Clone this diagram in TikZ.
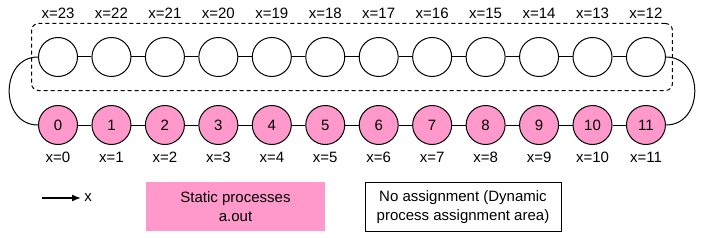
\documentclass[tikz,border=0pt]{standalone}
\usepackage{fontspec}
\setmainfont{Liberation Sans}
\usepackage{tikz}
\usetikzlibrary{arrows.meta,positioning,fit}
\definecolor{procpink}{RGB}{255,153,204}
\tikzset{
  proc/.style={circle,draw=black,line width=1pt,minimum size=39pt,inner sep=0pt,
               font=\fontsize{15}{18}\selectfont},
  sproc/.style={proc,fill=procpink},
  dproc/.style={proc,fill=white},
  lbl/.style={inner sep=0pt,font=\fontsize{15}{18}\selectfont},
  link/.style={draw=black,line width=1pt},
  dynarea/.style={rectangle,rounded corners=7pt,draw=black,line width=1pt,
                  dash pattern=on 4pt off 3pt,inner xsep=6.5pt,inner ysep=13.5pt},
  legbox/.style={rectangle,align=center,minimum height=49pt,inner sep=0pt,
                 font=\fontsize{15}{18.5}\selectfont},
  axis/.style={-{Latex[length=9pt,width=7pt]},draw=black,line width=1.4pt},
}

\begin{document}
\begin{tikzpicture}[x=1pt,y=-1pt]
  \useasboundingbox (0,0) rectangle (712,238);
  % process rows
  \foreach \i in {0,...,11} {
    \pgfmathtruncatemacro\j{23-\i}
    \node[sproc] (s\i) at ({58+53.45*\i},125) {\i};
    \node[lbl] (sl\i) at ({58+53.45*\i},157.5) {x=\i};
    \node[dproc] (d\j) at ({58+53.45*\i},57) {};
    \node[lbl] (dl\j) at ({58+53.45*\i},13.5) {x=\j};
  }
  \foreach \i [count=\k from 1] in {0,...,10}
    \draw[link] (s\i) -- (s\k);
  \foreach \i [count=\k from 13] in {12,...,22}
    \draw[link] (d\i) -- (d\k);
  \draw[link] (d23.west) to[out=180,in=180,looseness=1.45] (s0.west);
  \draw[link] (d12.east) to[out=0,in=0,looseness=1.45] (s11.east);
  \node[dynarea,fit=(d23)(d12)] (dyn) {};
  % legend
  \coordinate (ax) at (42,198);
  \coordinate (axend) at (81,198);
  \node[lbl] (xlab) at (88,197.5) {x};
  \draw[axis] (ax) -- (axend);
  \node[legbox,fill=procpink,minimum width=179pt] (static) at (235.5,206.5)
    {Static processes\\a.out};
  \node[legbox,draw=black,line width=1pt,minimum width=196pt] (noassign) at (463,207)
    {No assignment (Dynamic\\process assignment area)};
\end{tikzpicture}
\end{document}
